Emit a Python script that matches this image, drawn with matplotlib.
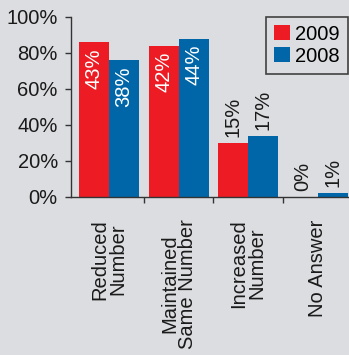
import numpy as np
import matplotlib.pyplot as plt

plt.rcParams['font.family'] = ['Liberation Sans', 'DejaVu Sans']

categories = ['Reduced\nNumber', 'Maintained\nSame Number', 'Increased\nNumber', 'No Answer']
vals_2009 = [43, 42, 15, 0]
vals_2008 = [38, 44, 17, 1]
y_ticks = [0, 10, 20, 30, 40, 50]
y_tick_labels = ['0%', '20%', '40%', '60%', '80%', '100%']

bg = '#dcdde0'
red = '#ed1c24'
blue = '#0066a8'
ink = '#1a1a1a'
fs = 14.5

fig = plt.figure(figsize=(3.49, 3.55), dpi=100, facecolor=bg)
ax = fig.add_axes([71 / 349, 1 - 197 / 355, 1 - 71 / 349, 180 / 355])
ax.set_facecolor(bg)

x = np.arange(len(categories))
w = 0.43
b1 = ax.bar(x - w / 2, vals_2009, w, color=red, label='2009')
b2 = ax.bar(x + w / 2, vals_2008, w, color=blue, label='2008')

for bars, vals in [(b1, vals_2009), (b2, vals_2008)]:
    for rect, v in zip(bars, vals):
        cx = rect.get_x() + rect.get_width() / 2
        if v >= 30:
            ax.annotate(f'{v}%', (cx, v), xytext=(0, -4.5), textcoords='offset points',
                        rotation=90, ha='center', va='top', color='white', fontsize=fs)
        else:
            ax.annotate(f'{v}%', (cx, v), xytext=(0, 4.5), textcoords='offset points',
                        rotation=90, ha='center', va='bottom', color=ink, fontsize=fs)

ax.set_xlim(-0.55, 3.45)
ax.set_ylim(0, 50)
ax.set_yticks(y_ticks)
ax.set_yticklabels(y_tick_labels, fontsize=fs, color=ink)
ax.tick_params(axis='y', length=4.5, width=1, color='#333333', pad=5)

# category names at the centres, tick marks at the group boundaries
ax.set_xticks(x)
ax.set_xticklabels(categories, rotation=90, fontsize=fs, color=ink,
                   ha='center', va='top', multialignment='center', linespacing=0.95)
ax.tick_params(axis='x', which='major', length=0, pad=16)
ax.set_xticks(x[:-1] + 0.5, minor=True)
ax.tick_params(axis='x', which='minor', length=4, width=1, color='#333333')

for s in ['top', 'right']:
    ax.spines[s].set_visible(False)
for s in ['left', 'bottom']:
    ax.spines[s].set_color('#333333')
    ax.spines[s].set_linewidth(1)

leg = ax.legend(loc='upper right', bbox_to_anchor=(347.5 / 349, 1 - 16.5 / 355),
                bbox_transform=fig.transFigure, fontsize=fs, frameon=True,
                fancybox=False, borderaxespad=0, handlelength=0.8, handleheight=0.8,
                handletextpad=0.25, labelspacing=0.15, borderpad=0.4)
leg.get_frame().set_edgecolor(ink)
leg.get_frame().set_facecolor('none')
leg.get_frame().set_linewidth(1.2)

fig.savefig('out.png', dpi=100, facecolor=bg)
